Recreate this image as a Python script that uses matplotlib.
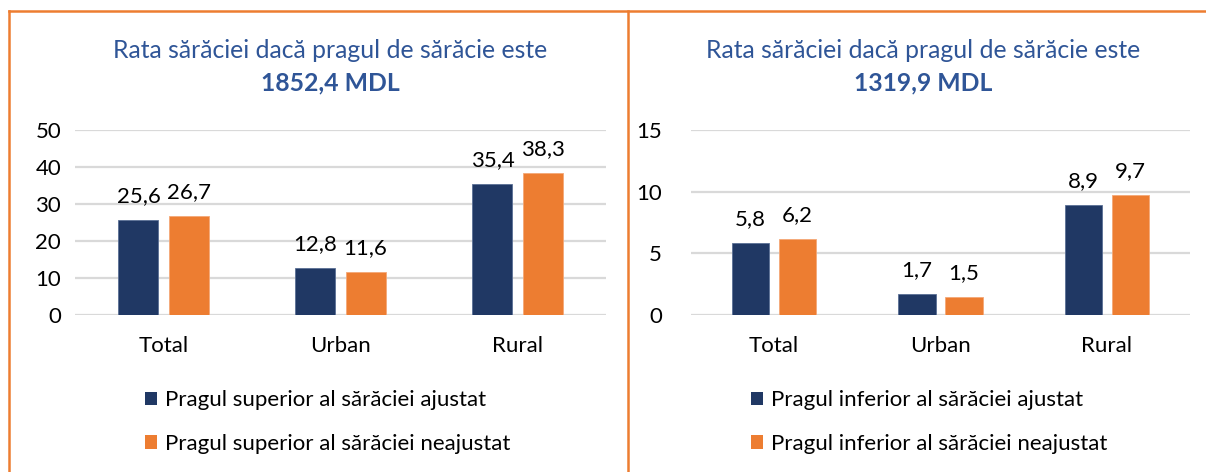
import matplotlib
matplotlib.use("Agg")
import matplotlib.pyplot as plt
from matplotlib.patches import Patch
from matplotlib.lines import Line2D
import numpy as np

plt.rcParams['font.family'] = ['Lato', 'DejaVu Sans']

categories = ["Total", "Urban", "Rural"]
left_adj = [25.6, 12.8, 35.4]
left_unadj = [26.7, 11.6, 38.3]
right_adj = [5.8, 1.7, 8.9]
right_unadj = [6.2, 1.5, 9.7]
left_ticks = [0, 10, 20, 30, 40, 50]
right_ticks = [0, 5, 10, 15]
title_line1 = "Rata sărăciei dacă pragul de sărăcie este"
left_title2 = "1852,4 MDL"
right_title2 = "1319,9 MDL"
left_legend = ["Pragul superior al sărăciei ajustat", "Pragul superior al sărăciei neajustat"]
right_legend = ["Pragul inferior al sărăciei ajustat", "Pragul inferior al sărăciei neajustat"]

NAVY = "#203864"
ORANGE = "#ED7D31"
TITLE = "#2F5597"
GRID = "#D9D9D9"

W, H = 1206, 472
fig = plt.figure(figsize=(W / 100, H / 100), dpi=100)

def fx(x):
    return x / W

def fy(y):
    return 1 - y / H

# orange frame
fig.add_artist(Line2D([fx(9), 1.0], [fy(11), fy(11)], color=ORANGE, lw=1.8))
fig.add_artist(Line2D([fx(9), fx(9)], [fy(11), 0], color=ORANGE, lw=1.8))
fig.add_artist(Line2D([fx(628), fx(628)], [fy(11), 0], color=ORANGE, lw=1.8))

FS = 16
TFS = 17.8

def panel(x0, x1, adj, unadj, ticks, t2, tcx, legend_labels, leg_x, ypad):
    ax = fig.add_axes([fx(x0), fy(315), fx(x1) - fx(x0), fy(130) - fy(315)])
    x = np.arange(len(categories))
    w = 0.226
    off = 0.1415
    b1 = ax.bar(x - off, adj, w, color=NAVY, edgecolor="#5a6f95", linewidth=0.6, zorder=3)
    b2 = ax.bar(x + off, unadj, w, color=ORANGE, edgecolor="#f4a877", linewidth=0.6, zorder=3)
    for bars, vals in ((b1, adj), (b2, unadj)):
        for r, v in zip(bars, vals):
            ax.annotate(f"{v:.1f}".replace(".", ","), (r.get_x() + r.get_width() / 2, v),
                        xytext=(0, 10), textcoords="offset points", ha="center", va="bottom",
                        fontsize=FS, color="black")
    ax.set_xlim(-0.5, len(categories) - 0.5)
    ax.set_ylim(ticks[0], ticks[-1])
    ax.set_yticks(ticks)
    ax.set_xticks(x)
    ax.set_xticklabels(categories)
    ax.tick_params(axis="x", length=0, pad=15, labelsize=FS)
    ax.tick_params(axis="y", length=0, pad=ypad, labelsize=FS)
    for s in ax.spines.values():
        s.set_visible(False)
    ax.yaxis.grid(True, color=GRID, lw=1.6, zorder=0)
    ax.set_axisbelow(True)
    ax.set_facecolor("none")
    fig.text(fx(tcx), fy(50), title_line1, ha="center", va="center", fontsize=TFS, color=TITLE)
    fig.text(fx(tcx), fy(83), t2, ha="center", va="center", fontsize=TFS, color=TITLE, fontweight="bold")
    handles = [Patch(facecolor=NAVY, edgecolor="none"), Patch(facecolor=ORANGE, edgecolor="none")]
    fig.legend(handles, legend_labels, loc="center left", bbox_to_anchor=(fx(leg_x), fy(422)),
               frameon=False, fontsize=FS, handlelength=0.55, handleheight=0.55,
               handletextpad=0.35, labelspacing=1.05, borderpad=0, borderaxespad=0)
    return ax

panel(75, 606, left_adj, left_unadj, left_ticks, left_title2, 330, left_legend, 145, 10)
panel(691, 1190, right_adj, right_unadj, right_ticks, right_title2, 923, right_legend, 751, 21)

fig.savefig("out.png", dpi=100)
